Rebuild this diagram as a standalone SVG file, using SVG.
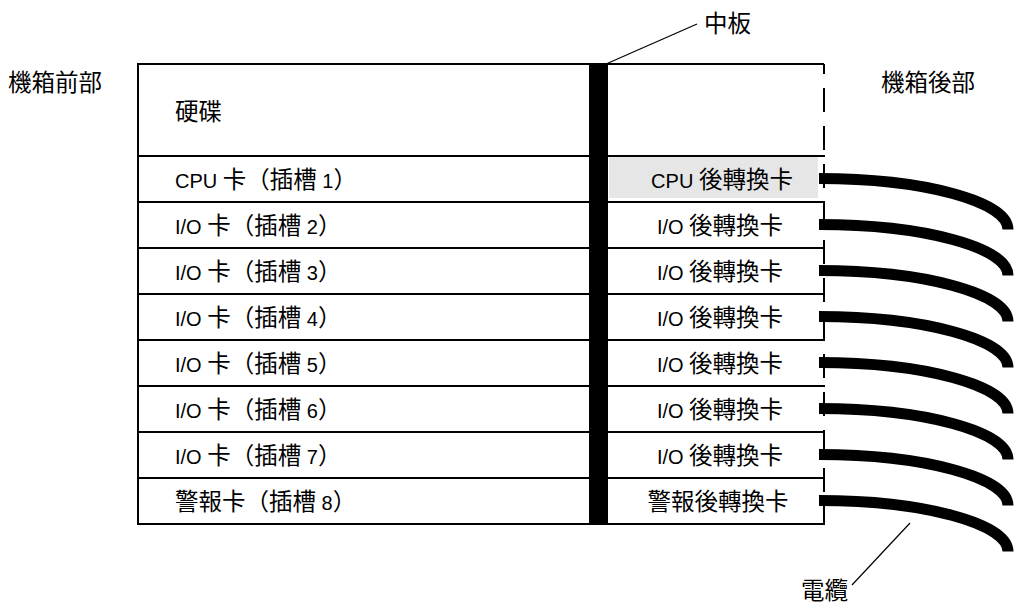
<svg xmlns="http://www.w3.org/2000/svg" width="1014" height="604" viewBox="0 0 1014 604">
<style>
.t{font-family:"Liberation Sans","Noto Sans CJK JP",sans-serif;font-size:20px;fill:#000}
.c{font-size:23.5px}
.ln{stroke:#000;stroke-width:2;fill:none}
.lead{stroke:#000;stroke-width:1.2;fill:none}
.cable{stroke:#000;stroke-width:11;fill:none;stroke-linecap:butt}
.r{text-anchor:middle}
</style>
<rect width="1014" height="604" fill="#fff"/>
<g id="labels">
<text class="t c" x="8" y="91">機箱前部</text>
<text class="t c" x="881" y="91">機箱後部</text>
<text class="t c" x="704" y="32">中板</text>
<text class="t c" x="801" y="599">電纜</text>
</g>
<g id="chassis">
<rect x="609" y="157" width="209" height="41" fill="#e6e6e6"/>
<path class="ln" d="M138,64 V524 M137,64 H824 M137,156 H825 M137,202 H825 M137,248 H825 M137,294 H825 M137,340 H825 M137,386 H825 M137,432 H825 M137,478 H825 M137,524 H825"/>
<line class="ln" x1="824" y1="64" x2="824" y2="525" stroke-dasharray="24 14" stroke-dashoffset="14"/>
<rect id="midplane" x="589" y="63" width="19" height="462" fill="#000"/>
</g>
<g id="disk"><text class="t c" x="175" y="120">硬碟</text></g>
<g id="slot1"><text class="t" x="175" y="188">CPU <tspan class="c">卡（插槽</tspan> 1<tspan class="c">）</tspan></text></g>
<g id="slot2"><text class="t" x="175" y="234">I/O <tspan class="c">卡（插槽</tspan> 2<tspan class="c">）</tspan></text></g>
<g id="slot3"><text class="t" x="175" y="280">I/O <tspan class="c">卡（插槽</tspan> 3<tspan class="c">）</tspan></text></g>
<g id="slot4"><text class="t" x="175" y="326">I/O <tspan class="c">卡（插槽</tspan> 4<tspan class="c">）</tspan></text></g>
<g id="slot5"><text class="t" x="175" y="372">I/O <tspan class="c">卡（插槽</tspan> 5<tspan class="c">）</tspan></text></g>
<g id="slot6"><text class="t" x="175" y="418">I/O <tspan class="c">卡（插槽</tspan> 6<tspan class="c">）</tspan></text></g>
<g id="slot7"><text class="t" x="175" y="464">I/O <tspan class="c">卡（插槽</tspan> 7<tspan class="c">）</tspan></text></g>
<g id="slot8"><text class="t" x="175" y="510"><tspan class="c">警報卡（插槽</tspan> 8<tspan class="c">）</tspan></text></g>
<g id="rtm1"><text class="t r" x="722" y="188">CPU <tspan class="c">後轉換卡</tspan></text></g>
<g id="rtm2"><text class="t r" x="720" y="234">I/O <tspan class="c">後轉換卡</tspan></text></g>
<g id="rtm3"><text class="t r" x="720" y="280">I/O <tspan class="c">後轉換卡</tspan></text></g>
<g id="rtm4"><text class="t r" x="720" y="326">I/O <tspan class="c">後轉換卡</tspan></text></g>
<g id="rtm5"><text class="t r" x="720" y="372">I/O <tspan class="c">後轉換卡</tspan></text></g>
<g id="rtm6"><text class="t r" x="720" y="418">I/O <tspan class="c">後轉換卡</tspan></text></g>
<g id="rtm7"><text class="t r" x="720" y="464">I/O <tspan class="c">後轉換卡</tspan></text></g>
<g id="rtm8"><text class="t r c" x="718" y="510">警報後轉換卡</text></g>
<g id="connectors">
<path class="lead" d="M606,64 L697,24"/>
<path class="lead" d="M852,585 L910,523"/>
<path class="cable" d="M819,178.5 A189 51 0 0 1 1008,229.5"/>
<path class="cable" d="M819,224.5 A189 51 0 0 1 1008,275.5"/>
<path class="cable" d="M819,270.5 A189 51 0 0 1 1008,321.5"/>
<path class="cable" d="M819,316.5 A189 51 0 0 1 1008,367.5"/>
<path class="cable" d="M819,362.5 A189 51 0 0 1 1008,413.5"/>
<path class="cable" d="M819,408.5 A189 51 0 0 1 1008,459.5"/>
<path class="cable" d="M819,454.5 A189 51 0 0 1 1008,505.5"/>
<path class="cable" d="M819,500.5 A189 51 0 0 1 1008,551.5"/>
</g>
</svg>
